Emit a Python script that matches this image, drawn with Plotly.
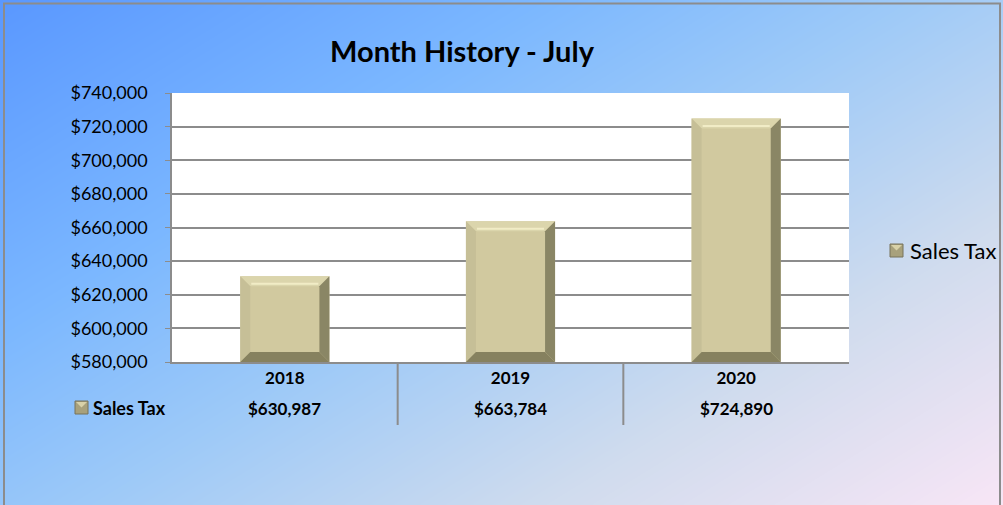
import base64, struct, zlib
import numpy as np
import plotly.graph_objects as go

# ---- data ----
years = ["2018", "2019", "2020"]
sales_tax = [630987, 663784, 724890]
series_name = "Sales Tax"
y_ticks = [580000, 600000, 620000, 640000, 660000, 680000, 700000, 720000, 740000]
title_text = "Month History - July"

W, H = 1003, 505
L, R, T, B = 172, 1003 - 849, 93, 505 - 362
PW, PH = W - L - R, H - T - B
YMIN, YMAX = 580000, 740000

def px_x(px):
    return (px - L) / PW

def px_y(py):
    return 1 - (py - T) / PH

# ---- gradient background as PNG ----
def gradient_png(w, h):
    u = np.linspace(0, 1, w)[None, :]
    v = np.linspace(0, 1, h)[:, None]
    t = (u * 0.55 + v * 0.45)
    stops_t = [0.0, 0.3, 0.5, 0.75, 1.0]
    stops_c = [(90, 152, 255), (124, 184, 255), (158, 202, 248), (208, 220, 238), (248, 230, 246)]
    img = np.zeros((h, w, 3), dtype=np.float64)
    for ch in range(3):
        img[:, :, ch] = np.interp(t, stops_t, [c[ch] for c in stops_c])
    img = img.clip(0, 255).astype(np.uint8)
    raw = b"".join(b"\x00" + img[r].tobytes() for r in range(h))
    def chunk(tag, data):
        c = struct.pack(">I", len(data)) + tag + data
        return c + struct.pack(">I", zlib.crc32(tag + data) & 0xffffffff)
    png = b"\x89PNG\r\n\x1a\n" + chunk(b"IHDR", struct.pack(">IIBBBBB", w, h, 8, 2, 0, 0, 0))
    png += chunk(b"IDAT", zlib.compress(raw, 9)) + chunk(b"IEND", b"")
    return "data:image/png;base64," + base64.b64encode(png).decode()

FONT = "Lato, 'Open Sans', sans-serif"

bar_w = 0.395
ncat = len(years)
bx = 10 * ncat / PW                 # bevel size in x data units (10 px)
by = 10 * (YMAX - YMIN) / PH        # bevel size in y data units (10 px)
xi = list(range(ncat))

fig = go.Figure()
fig.add_trace(go.Bar(
    x=xi, y=[v - YMIN for v in sales_tax], base=YMIN, width=bar_w,
    name=series_name,
    marker=dict(color="#d1c99f", line=dict(width=0)),
    showlegend=False, hoverinfo="skip",
))

def poly(pts):
    return "M " + " L ".join("{},{}".format(a, b) for a, b in pts) + " Z"

shapes = [
    # white plot area
    dict(type="rect", xref="paper", yref="paper", x0=0, x1=1, y0=0, y1=1,
         fillcolor="white", line=dict(width=0), layer="below"),
    # outer border
    dict(type="rect", xref="paper", yref="paper", x0=px_x(4), x1=px_x(1000),
         y0=px_y(506), y1=px_y(3.5), line=dict(color="#8c8c8c", width=2), layer="below"),
]
# bevel faces for each bar (derived from the bar values)
for i, v in zip(xi, sales_tax):
    x0, x1 = i - bar_w / 2, i + bar_w / 2
    top, base = v, YMIN
    faces = [
        ([(x0, top), (x1, top), (x1 - bx, top - by), (x0 + bx, top - by)], "#dbd5ac"),
        ([(x0, top), (x0 + bx, top - by), (x0 + bx, base + by), (x0, base)], "#c6bf97"),
        ([(x1, top), (x1, base), (x1 - bx, base + by), (x1 - bx, top - by)], "#8a8665"),
        ([(x0, base), (x1, base), (x1 - bx, base + by), (x0 + bx, base + by)], "#86815f"),
    ]
    for pts, col in faces:
        shapes.append(dict(type="path", xref="x", yref="y", path=poly(pts),
                           fillcolor=col, line=dict(width=0), layer="above"))
    shapes.append(dict(type="line", xref="x", yref="y",
                       x0=x0 + bx * 1.1, x1=x1 - bx * 1.1,
                       y0=top - by * 0.75, y1=top - by * 0.75,
                       line=dict(color="#f1ecc6", width=2), layer="above"))

# table key square and legend key square
for (kx, ky) in [(75, 401), (890, 244)]:
    shapes.append(dict(type="rect", xref="paper", yref="paper", x0=px_x(kx), x1=px_x(kx + 13),
                       y0=px_y(ky + 13), y1=px_y(ky), fillcolor="#a8a17c",
                       line=dict(color="#77735a", width=1)))
    shapes.append(dict(type="path", xref="paper", yref="paper",
                       path=poly([(px_x(kx + 1), px_y(ky + 1)), (px_x(kx + 12), px_y(ky + 1)),
                                  (px_x(kx + 6.5), px_y(ky + 6.5))]),
                       fillcolor="#d8d1a8", line=dict(width=0)))

for i in range(ncat - 1):
    shapes.append(dict(type="line", xref="x", yref="paper", x0=i + 0.5, x1=i + 0.5,
                       y0=0, y1=px_y(425), line=dict(color="#8c8c8c", width=2)))

annotations = []
for i, v in zip(xi, sales_tax):
    annotations.append(dict(x=i, xref="x", y=px_y(408), yref="paper",
                            text="<b>${:,}</b>".format(v), showarrow=False,
                            font=dict(family=FONT, size=17, color="black"),
                            xanchor="center", yanchor="middle"))
annotations.append(dict(x=px_x(91), xref="paper", y=px_y(408), yref="paper",
                        text="<b>" + series_name + "</b>", showarrow=False,
                        font=dict(family=FONT, size=18, color="black"),
                        xanchor="left", yanchor="middle"))
# legend (drawn manually)
annotations.append(dict(x=px_x(908), xref="paper", y=px_y(250), yref="paper",
                        text=series_name, showarrow=False,
                        font=dict(family=FONT, size=22, color="black"),
                        xanchor="left", yanchor="middle"))

fig.update_layout(
    width=W, height=H, autosize=False,
    margin=dict(l=L, r=R, t=T, b=B, autoexpand=False),
    paper_bgcolor="white", plot_bgcolor="rgba(0,0,0,0)",
    showlegend=False,
    title=dict(text="<b>" + title_text + "</b>", x=462 / W, y=1 - 52 / H,
               xanchor="center", yanchor="middle",
               font=dict(family=FONT, size=29, color="black")),
    images=[dict(source=gradient_png(W, H), xref="paper", yref="paper",
                 x=px_x(0), y=px_y(0), sizex=W / PW, sizey=H / PH,
                 xanchor="left", yanchor="top", sizing="stretch", layer="below")],
    shapes=shapes,
    annotations=annotations,
    xaxis=dict(range=[-0.5, ncat - 0.5], tickvals=xi,
               ticktext=["<b>" + y + "</b>" for y in years],
               showgrid=False, showline=True, linecolor="#8c8c8c",
               linewidth=1.5, ticks="", tickfont=dict(family=FONT, size=17, color="black"),
               zeroline=False, fixedrange=True, automargin=False),
    yaxis=dict(range=[YMIN, YMAX], tickvals=y_ticks,
               ticktext=["${:,}".format(v) for v in y_ticks],
               showgrid=True, gridcolor="#8c8c8c", gridwidth=1.5,
               showline=True, linecolor="#8c8c8c", linewidth=1.5,
               ticks="outside", ticklen=5, tickcolor="#8c8c8c",
               ticklabelstandoff=14,
               tickfont=dict(family=FONT, size=18, color="black"),
               zeroline=False, fixedrange=True, automargin=False),
)

fig.write_html("out.html", config={"displayModeBar": False},
               post_script="document.body.style.margin='0';document.body.style.padding='0';")
